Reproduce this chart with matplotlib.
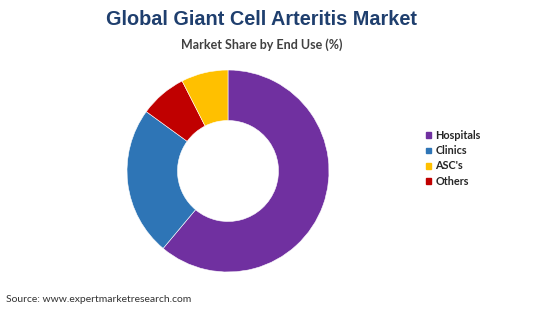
import matplotlib.pyplot as plt

labels = ['Hospitals', 'Clinics', "ASC's", 'Others']
shares = [61.1, 23.9, 7.5, 7.5]
pie_order = [0, 1, 3, 2]  # drawing order clockwise from top
colors = {'Hospitals': '#7030A0', 'Clinics': '#2E75B6', "ASC's": '#FFC000', 'Others': '#C00000'}

fig = plt.figure(figsize=(5.5, 3.09), dpi=100)
fig.patch.set_facecolor('white')

fig.text(0.476, 0.938, 'Global Giant Cell Arteritis Market', ha='center', va='center',
         fontsize=14.3, fontweight='bold', color='#1F3F6E', family='Liberation Sans')
fig.text(0.476, 0.855, 'Market Share by End Use (%)', ha='center', va='center',
         fontsize=9, fontweight='bold', color='#404040', family='Lato')
fig.text(0.01, 0.03, 'Source: www.expertmarketresearch.com', ha='left', va='center',
         fontsize=7.5, color='#333333', family='Lato')

ax = fig.add_axes([127 / 550, 37 / 309, 202 / 550, 202 / 309])
vals = [shares[i] for i in pie_order]
cols = [colors[labels[i]] for i in pie_order]
wedges, _ = ax.pie(vals, colors=cols, startangle=90, counterclock=False, radius=1,
                   wedgeprops=dict(width=0.5, edgecolor='white', linewidth=0.4))
ax.set_xlim(-1, 1)
ax.set_ylim(-1, 1)
ax.set_aspect('equal')

handles = [plt.Rectangle((0, 0), 1, 1, color=colors[l]) for l in labels]
leg = fig.legend(handles, labels, loc='upper left', bbox_to_anchor=(0.757, 0.61),
                 frameon=False, handlelength=0.45, handleheight=0.45, handletextpad=0.4,
                 labelspacing=0.38, prop=dict(family='Lato', weight='bold', size=7.8))
for t in leg.get_texts():
    t.set_color('#262626')

fig.savefig('out.png', dpi=100, facecolor='white')
